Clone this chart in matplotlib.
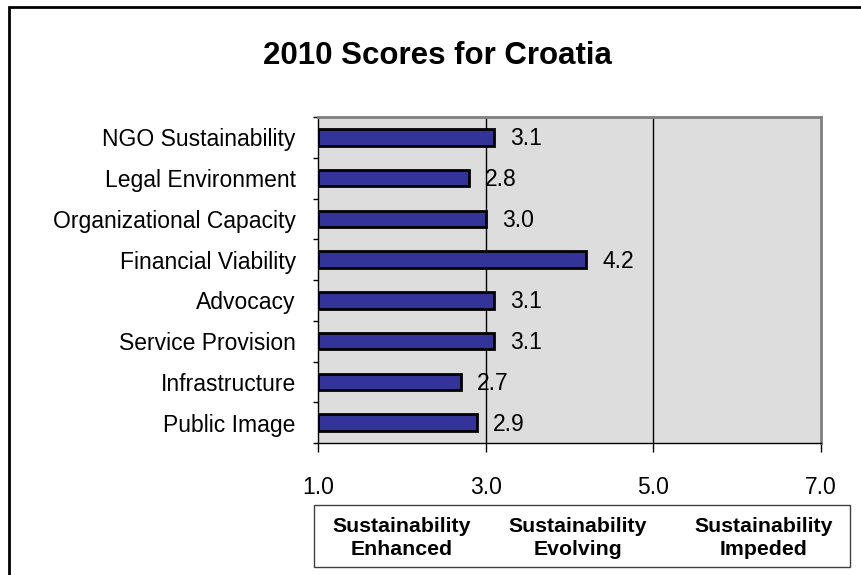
import matplotlib.pyplot as plt
from matplotlib.patches import Rectangle

plt.rcParams['font.family'] = ['Liberation Sans', 'DejaVu Sans']

# data
categories = ['NGO Sustainability', 'Legal Environment', 'Organizational Capacity',
              'Financial Viability', 'Advocacy', 'Service Provision',
              'Infrastructure', 'Public Image']
scores = [3.1, 2.8, 3.0, 4.2, 3.1, 3.1, 2.7, 2.9]
x_ticks = [1.0, 3.0, 5.0, 7.0]
zones = ['Sustainability\nEnhanced', 'Sustainability\nEvolving', 'Sustainability\nImpeded']

W, H = 861, 575
fig = plt.figure(figsize=(W / 100, H / 100), dpi=100)

# outer frame (runs off the right and bottom edges)
fig.patches.append(Rectangle((9 / W, -0.05), 1.0, (H - 7) / H + 0.05,
                             transform=fig.transFigure, fill=False,
                             edgecolor='black', linewidth=2))

fig.text(437 / W, 1 - 56 / H, '2010 Scores for Croatia', ha='center', va='center',
         fontsize=22.5, fontweight='bold')

ax = fig.add_axes([318 / W, 132 / H, 503 / W, 326 / H])
ax.set_facecolor('#dddddd')

ypos = list(range(len(categories)))
ax.barh(ypos, [s - 1.0 for s in scores], left=1.0, height=0.4,
        color='#333399', edgecolor='black', linewidth=2, zorder=3)
for y, s in zip(ypos, scores):
    ax.annotate(f'{s:.1f}', (s, y), xytext=(11.5, -1), textcoords='offset points',
                ha='left', va='center', fontsize=16.5, zorder=4)

for v in (3.0, 5.0):
    ax.axvline(v, color='black', linewidth=1, zorder=2)

ax.set_xlim(1.0, 7.0)
ax.set_ylim(len(categories) - 0.5, -0.5)

ax.set_yticks(ypos)
ax.set_yticklabels(categories, fontsize=16.5)
ax.tick_params(axis='y', which='major', length=0, pad=16)
ax.set_yticks([i - 0.5 for i in range(len(categories) + 1)], minor=True)
ax.tick_params(axis='y', which='minor', length=3.5, width=1, direction='out')

ax.set_xticks(x_ticks)
ax.set_xticklabels([f'{t:.1f}' for t in x_ticks], fontsize=16.5)
ax.tick_params(axis='x', length=6.5, width=1, direction='out', pad=17)

ax.spines['left'].set_color('black')
ax.spines['bottom'].set_color('black')
ax.spines['left'].set_linewidth(1)
ax.spines['bottom'].set_linewidth(1)
for side in ('top', 'right'):
    ax.spines[side].set_color('#808080')
    ax.spines[side].set_linewidth(2)

# legend box for score ranges
fig.patches.append(Rectangle((314 / W, 1 - 567 / H), (850 - 314) / W, (567 - 505) / H,
                             transform=fig.transFigure, fill=False,
                             edgecolor='#404040', linewidth=1))
for cx, label in zip([402, 578, 764], zones):
    fig.text(cx / W, 1 - 538 / H, label, ha='center', va='center',
             fontsize=15.3, fontweight='bold', linespacing=1.22)

fig.savefig('out.png', dpi=100)
